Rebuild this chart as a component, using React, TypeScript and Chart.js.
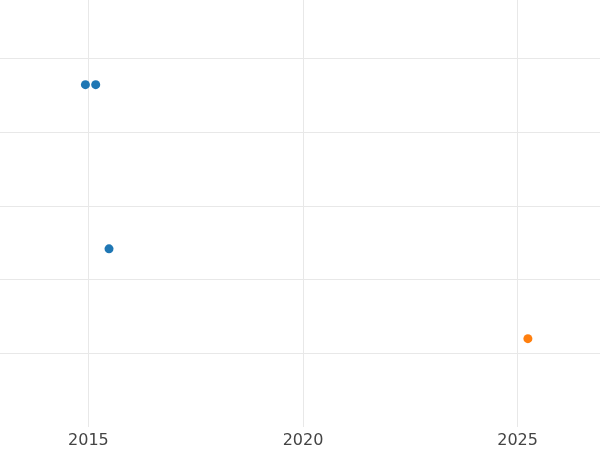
import React, { useEffect, useRef } from "react";
import { Chart, registerables } from "chart.js";

Chart.register(...registerables);

const seriesAX = [2014.93, 2015.17, 2015.48];
const seriesAY = [4.65, 4.65, 2.42];
const seriesBX = [2025.24];
const seriesBY = [1.2];
const xTicks = [2015, 2020, 2025];
const yTicks = [1, 2, 3, 4, 5];

export default function App() {
  const ref = useRef<HTMLCanvasElement | null>(null);
  useEffect(() => {
    if (!ref.current) return;
    const chart = new Chart(ref.current, {
      type: "scatter",
      data: {
        datasets: [
          {
            data: seriesAX.map((x, i) => ({ x, y: seriesAY[i] })),
            backgroundColor: "#1f77b4",
            borderColor: "#1f77b4",
            pointRadius: 4.5,
            borderWidth: 0,
          },
          {
            data: seriesBX.map((x, i) => ({ x, y: seriesBY[i] })),
            backgroundColor: "#ff7f0e",
            borderColor: "#ff7f0e",
            pointRadius: 4.5,
            borderWidth: 0,
          },
        ],
      },
      options: {
        animation: false,
        responsive: false,
        layout: { padding: 0, autoPadding: false },
        plugins: { legend: { display: false }, tooltip: { enabled: false } },
        scales: {
          x: {
            type: "linear",
            min: 2012.94,
            max: 2026.92,
            afterBuildTicks: (s: any) => {
              s.ticks = xTicks.map((v) => ({ value: v }));
            },
            afterFit: (s: any) => {
              s.height = 23;
            },
            border: { display: false },
            grid: { color: "#e8e8e8", lineWidth: 1, drawTicks: false },
            ticks: {
              color: "#444444",
              font: { family: "DejaVu Sans", size: 16 },
              padding: 4,
              maxRotation: 0,
              callback: (v: any) => String(v),
            },
          },
          y: {
            type: "linear",
            min: 0,
            max: 5.8,
            afterBuildTicks: (s: any) => {
              s.ticks = yTicks.map((v) => ({ value: v }));
            },
            afterFit: (s: any) => {
              s.width = 0;
            },
            border: { display: false },
            grid: { color: "#e8e8e8", lineWidth: 1, drawTicks: false },
            ticks: { display: false },
          },
        },
      },
    });
    return () => chart.destroy();
  }, []);
  return (
    <div style={{ position: "fixed", left: 0, top: 0, width: 600, height: 450, background: "#fff" }}>
      <canvas ref={ref} width={600} height={450} style={{ width: 600, height: 450, display: "block" }} />
    </div>
  );
}
